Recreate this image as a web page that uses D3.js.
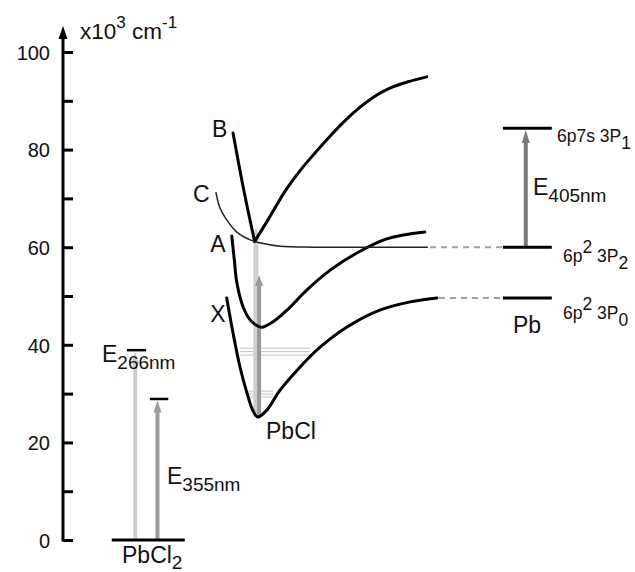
<!DOCTYPE html>
<html>
<head>
<meta charset="utf-8">
<script src="https://cdn.jsdelivr.net/npm/d3@7"></script>
<style>
  body { margin: 0; background: #fff; }
  svg text { font-family: "Liberation Sans", Arial, sans-serif; fill: #111; }
</style>
</head>
<body>
<svg id="chart" width="635" height="572"></svg>
<script>
// energies in 10^3 cm-1, positions in arbitrary units (0-100 across the figure)
var tickValues = [0, 10, 20, 30, 40, 50, 60, 70, 80, 90, 100];
var tickLabels = [0, 20, 40, 60, 80, 100];

// PbCl potential curves [r, E]
var curveX = [[35.7,49.6],[36.7,42.4],[37.8,35.4],[38.9,30.1],[39.8,26.6],[40.6,25.2],[42.0,26.6],[44.1,30.7],[46.8,34.8],[50.4,39.5],[54.6,43.6],[59.8,47.1],[64.6,48.8],[68.8,49.6]];
var curveA = [[36.5,62.3],[36.9,57.4],[37.3,52.7],[38.3,47.7],[39.4,45.1],[40.5,43.9],[41.3,43.6],[43.0,44.7],[45.2,47.1],[48.3,51.2],[52.0,55.3],[56.2,58.8],[60.9,61.7],[66.9,63.1]];
var curveBLeft = [[36.7,83.4],[38.3,72.3],[40.1,61.2]];
var curveBRight = [[40.1,61.2],[42.2,65.6],[44.9,71.5],[47.2,75.6],[49.6,79.3],[52.0,82.8],[54.3,85.9],[56.7,88.7],[59.1,91.0],[61.4,92.6],[64.3,93.9],[67.2,94.9]];
var curveC = [[34.0,71.3],[34.6,68.2],[35.7,65.6],[37.3,63.1],[39.4,61.5],[40.9,60.9],[44.1,60.2],[49.3,60.0],[56.7,60.0],[67.4,60.0]];

var curveLabels = [
  {name: "B", r: 33.4, e: 82.5},
  {name: "C", r: 30.4, e: 69.3},
  {name: "A", r: 33.1, e: 59.1},
  {name: "X", r: 33.1, e: 44.6}
];

// X state vibrational levels [E, r0, r1]
var vibLevels = [[39.3,37.8,48.8],[38.6,37.8,48.8],[37.9,37.8,48.8],[30.5,38.9,43.0],[29.9,38.9,43.0],[29.3,38.9,43.0]];

// Pb atomic levels
var pbLevels = [
  {e: 84.4, main: "6p7s 3P", sup: "", sub: "1"},
  {e: 60.0, main: "6p", sup: "2", rest: " 3P", sub: "2"},
  {e: 49.6, main: "6p", sup: "2", rest: " 3P", sub: "0"}
];
var pbLevelR = [79.2, 86.9];

// photon energies
var e266 = 38.9, e355 = 28.9, e405 = [60.0, 84.4];
var pbclArrows = [[25.2, 64.0], [25.2, 54.3]];

var width = 635, height = 572;
var svg = d3.select("#chart");

var xScale = d3.scaleLinear().domain([0, 100]).range([0, width]);
var yScale = d3.scaleLinear().domain([0, 100]).range([540, 52]);

// axis
var axisX = 63;
var axis = d3.axisRight(yScale)
  .tickValues(tickValues)
  .tickSize(10)
  .tickSizeOuter(0)
  .tickFormat(d => tickLabels.indexOf(d) >= 0 ? d : "");

var ag = svg.append("g").attr("transform", "translate(" + axisX + ",0)").call(axis);
ag.select(".domain").remove();
ag.selectAll(".tick line").attr("stroke", "#000").attr("stroke-width", 3);
ag.selectAll(".tick text")
  .attr("x", -13)
  .attr("text-anchor", "end")
  .attr("dy", "0.36em")
  .style("font-size", "20px")
  .style("font-family", "'Liberation Sans', Arial, sans-serif")
  .attr("fill", "#111");

svg.append("line")
  .attr("x1", axisX).attr("x2", axisX)
  .attr("y1", yScale(0) + 1.5).attr("y2", 36)
  .attr("stroke", "#000").attr("stroke-width", 3);
svg.append("path")
  .attr("d", "M" + axisX + ",26 L" + (axisX - 4.5) + ",39 L" + (axisX + 4.5) + ",39 Z")
  .attr("fill", "#000");

var unit = svg.append("text").attr("x", 80).attr("y", 39).style("font-size", "22.5px");
unit.append("tspan").text("x10");
unit.append("tspan").attr("dy", -11).style("font-size", "17px").text("3");
unit.append("tspan").attr("dy", 11).text(" cm");
unit.append("tspan").attr("dy", -11).style("font-size", "17px").text("-1");

function arrow(x, e0, e1, color, w, headW, headL) {
  var y0 = yScale(e0), y1 = yScale(e1);
  svg.append("line")
    .attr("x1", x).attr("x2", x)
    .attr("y1", y0).attr("y2", y1 + headL - 1)
    .attr("stroke", color).attr("stroke-width", w);
  svg.append("path")
    .attr("d", "M" + x + "," + y1 + " L" + (x - headW / 2) + "," + (y1 + headL) + " L" + (x + headW / 2) + "," + (y1 + headL) + " Z")
    .attr("fill", color);
}

function levelLine(r0, r1, e, w) {
  svg.append("line")
    .attr("x1", xScale(r0)).attr("x2", xScale(r1))
    .attr("y1", yScale(e)).attr("y2", yScale(e))
    .attr("stroke", "#000").attr("stroke-width", w || 3);
}

function eLabel(x, y, sub) {
  var t = svg.append("text").attr("x", x).attr("y", y).style("font-size", "23px");
  t.append("tspan").text("E");
  t.append("tspan").attr("dy", 7).style("font-size", "19px").text(sub);
}

// PbCl2 side
arrow(xScale(21.3), 0, e266 - 0.3, "#cdcdcd", 4, 8, 12);
arrow(xScale(24.8), 0, e355 - 0.3, "#9b9b9b", 4, 8, 12);
levelLine(17.6, 29.1, 0);
levelLine(20.0, 23.0, e266, 2.5);
levelLine(23.6, 26.5, e355, 2.5);
eLabel(102, 362, "266nm");
eLabel(167, 484, "355nm");
var pc2 = svg.append("text").attr("x", 122).attr("y", 563).style("font-size", "23px");
pc2.append("tspan").text("PbCl");
pc2.append("tspan").attr("dy", 6).style("font-size", "19px").text("2");

// vibrational levels
svg.selectAll(".vib").data(vibLevels).enter().append("line")
  .attr("x1", d => xScale(d[1])).attr("x2", d => xScale(d[2]))
  .attr("y1", d => yScale(d[0])).attr("y2", d => yScale(d[0]))
  .attr("stroke", "#c4c4c4").attr("stroke-width", 1);

// PbCl excitation arrows
arrow(xScale(40.3), pbclArrows[0][0], pbclArrows[0][1], "#d0d0d0", 5, 9, 12);
arrow(xScale(40.8), pbclArrows[1][0], pbclArrows[1][1], "#999999", 4, 8, 11);

// potential curves
var line = d3.line()
  .x(d => xScale(d[0]))
  .y(d => yScale(d[1]))
  .curve(d3.curveCatmullRom.alpha(0.5));

var smooth = d3.line()
  .x(d => xScale(d[0]))
  .y(d => yScale(d[1]))
  .curve(d3.curveMonotoneX);

[curveX, curveA].forEach(function(c) {
  svg.append("path").datum(c)
    .attr("fill", "none").attr("stroke", "#000")
    .attr("stroke-width", 3).attr("stroke-linecap", "round")
    .attr("d", line);
});
[curveBLeft, curveBRight].forEach(function(c) {
  svg.append("path").datum(c)
    .attr("fill", "none").attr("stroke", "#000")
    .attr("stroke-width", 3).attr("stroke-linecap", "round")
    .attr("d", smooth);
});
svg.append("path").datum(curveC)
  .attr("fill", "none").attr("stroke", "#222")
  .attr("stroke-width", 1.5)
  .attr("d", line);

svg.selectAll(".clab").data(curveLabels).enter().append("text")
  .attr("x", d => xScale(d.r)).attr("y", d => yScale(d.e))
  .style("font-size", "23px")
  .text(d => d.name);

svg.append("text").attr("x", 266).attr("y", 439).style("font-size", "23px").text("PbCl");

// dissociation dashes to Pb levels
[[curveC[curveC.length - 1], 60.0], [curveX[curveX.length - 1], 49.6]].forEach(function(d) {
  svg.append("line")
    .attr("x1", xScale(d[0][0]) + 2).attr("x2", xScale(pbLevelR[0]))
    .attr("y1", yScale(d[1])).attr("y2", yScale(d[1]))
    .attr("stroke", "#a0a0a0").attr("stroke-width", 2)
    .attr("stroke-dasharray", "6,5");
});

// Pb side
arrow(xScale(82.8), e405[0], e405[1] - 0.4, "#7a7a7a", 4, 8, 13);
pbLevels.forEach(function(l) { levelLine(pbLevelR[0], pbLevelR[1], l.e); });
eLabel(533, 195, "405nm");

var lOff = [14, 15, 21];
pbLevels.forEach(function(l, i) {
  var t = svg.append("text")
    .attr("x", i === 0 ? 557 : 563)
    .attr("y", yScale(l.e) + lOff[i])
    .style("font-size", "17.5px");
  t.append("tspan").text(l.main);
  if (l.sup) {
    t.append("tspan").attr("dy", -9).text(l.sup);
    t.append("tspan").attr("dy", 9).text(l.rest);
  }
  t.append("tspan").attr("dy", 7).text(l.sub);
});

svg.append("text").attr("x", 513).attr("y", 333).style("font-size", "23px").text("Pb");
</script>
</body>
</html>
